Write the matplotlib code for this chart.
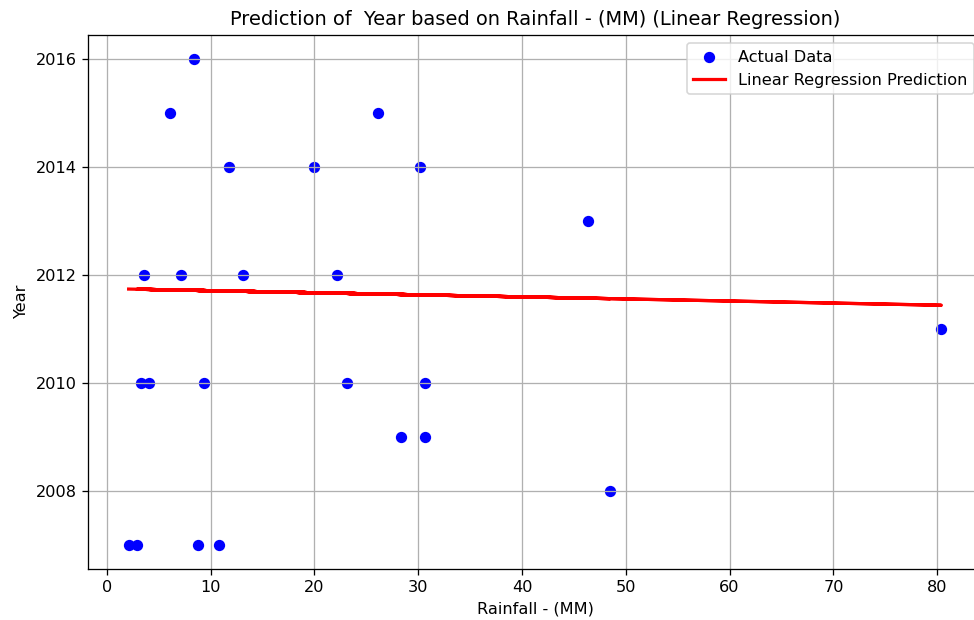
import numpy as np
import matplotlib
matplotlib.use('Agg')
import matplotlib.pyplot as plt

# rainfall (mm) and year of each observation
rainfall = np.array([2.1, 30.7, 8.4, 46.4, 3.3, 13.1, 26.1, 2.9, 20.0, 4.1,
                     48.5, 7.1, 30.2, 8.75, 23.1, 28.3, 6.05, 3.6, 80.4, 9.4,
                     11.8, 10.8, 22.2, 30.7])
year = np.array([2007, 2010, 2016, 2013, 2010, 2012, 2015, 2007, 2014, 2010,
                 2008, 2012, 2014, 2007, 2010, 2009, 2015, 2012, 2011, 2010,
                 2014, 2007, 2012, 2009])

# fitted model coefficients
intercept = 2011.748
slope = -0.00383

pred = intercept + slope * rainfall

dpi = 116
fig = plt.figure(figsize=(974 / dpi, 620 / dpi), dpi=dpi)
ax = fig.add_axes([88 / 974, 1 - 569 / 620, (982 - 88) / 974, (569 - 35) / 620])

ax.scatter(rainfall, year, color='blue', label='Actual Data')
ax.plot(rainfall, pred, color='red', linewidth=2, label='Linear Regression Prediction')

ax.set_title('Prediction of  Year based on Rainfall - (MM) (Linear Regression)')
ax.set_xlabel('Rainfall - (MM)')
ax.set_ylabel('Year')
ax.legend(loc='upper right')
ax.grid(True)

fig.savefig('out.png', dpi=dpi)
